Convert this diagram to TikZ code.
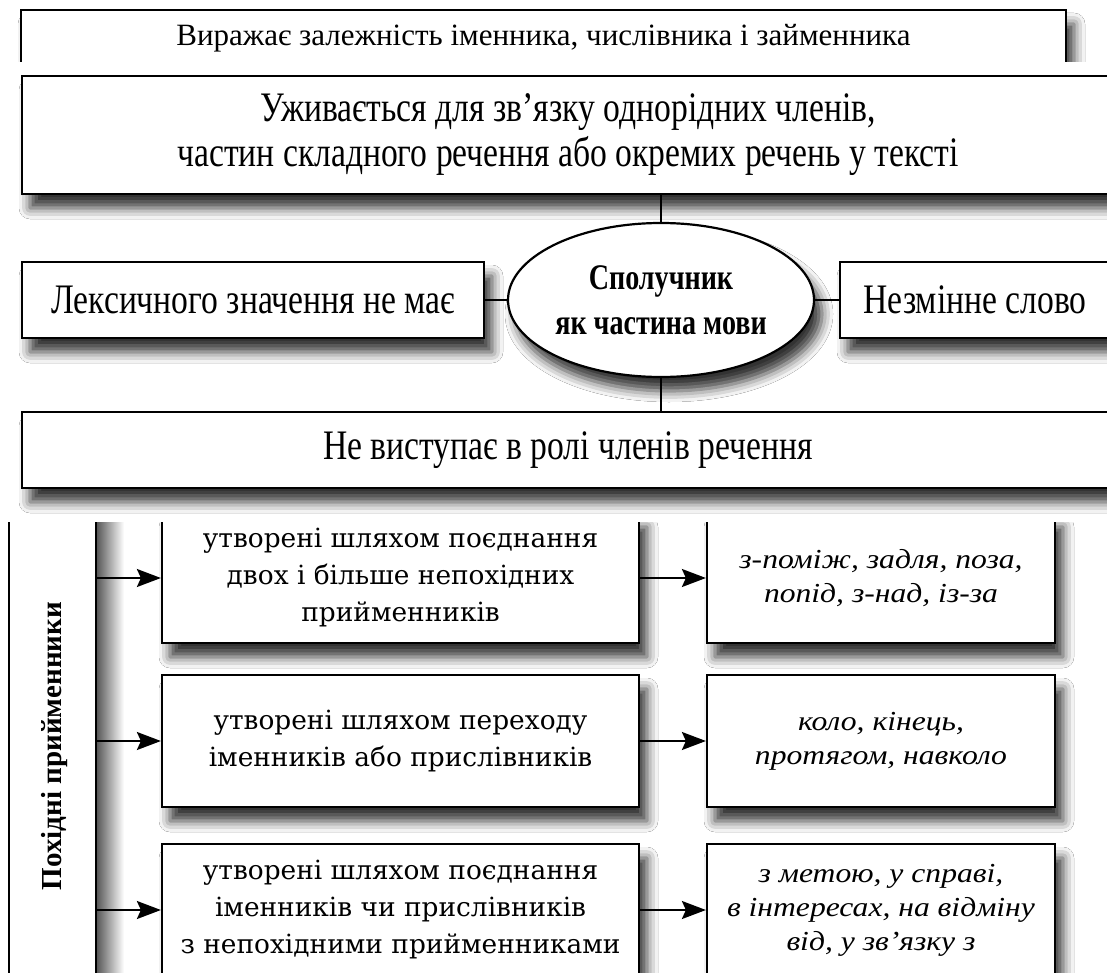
\documentclass[tikz,border=0pt]{standalone}
\usepackage{fontspec}
\setmainfont{Liberation Serif}
\newfontfamily\narrowfont[FakeStretch=0.8]{Liberation Serif}
\newfontfamily\tightfont[FakeStretch=0.78]{Liberation Serif}
\newfontfamily\widefont{DejaVu Serif}
\newfontfamily\exfont[FakeStretch=1.15]{Liberation Serif}
\usetikzlibrary{arrows.meta,shapes.geometric,shadows.blur}

\begin{document}
\begin{tikzpicture}[x=1pt,y=-1pt,
    box/.style={draw,line width=2.2pt,fill=white,align=center,inner sep=0pt,
      blur shadow={shadow xshift=8pt,shadow yshift=-14pt,shadow blur radius=11pt,shadow opacity=80}},
    link/.style={line width=1.8pt},
    arr/.style={line width=2pt,-{Stealth[length=24pt,width=18pt,inset=4pt]}},
    topfont/.style={font=\fontsize{31}{36}\selectfont},
    narrowtext/.style={font=\narrowfont\fontsize{42}{45}\selectfont},
    widetext/.style={font=\widefont\fontsize{26.4}{37}\selectfont},
    exampletext/.style={font=\exfont\itshape\fontsize{27.5}{34}\selectfont}]

  \useasboundingbox[fill=white] (0,0) rectangle (1107,973);%

  \begin{scope}
    \clip (0,0) rectangle (1107,62);%
    \node[box,topfont,minimum width=1045,minimum height=56] (verb) at (543.5,38)
      {Виражає залежність іменника, числівника і займенника};%
  \end{scope}

  \begin{scope}
    \clip (0,62) rectangle (1107,520);%
    \node[box,narrowtext,minimum width=1092,minimum height=118] (use) at (568,135)
      {Уживається для зв’язку однорідних членів,\\частин складного речення або окремих речень у тексті};%
    \node[box,ellipse,font=\tightfont\bfseries\fontsize{36}{45}\selectfont,
      minimum width=306,minimum height=154] (core) at (661,300)
      {Сполучник\\як частина мови};%
    \node[box,narrowtext,minimum width=462,minimum height=76] (lex) at (253,300)
      {Лексичного значення не має};%
    \node[box,narrowtext,minimum width=270,minimum height=76] (fixed) at (975,300)
      {Незмінне слово};%
    \node[box,narrowtext,minimum width=1092,minimum height=76] (role) at (568,450)
      {Не виступає в ролі членів речення};%

    \draw[link] (core.north |- use.south) -- (core.north);%
    \draw[link] (lex.east) -- (core.west);%
    \draw[link] (core.east) -- (fixed.west);%
    \draw[link] (core.south) -- (core.south |- role.north);%
  \end{scope}

  \begin{scope}
    \clip (0,522) rectangle (1107,973);%
    \shade[left color=black!65,right color=white] (97,500) rectangle (124,1000);%
    \node[draw,line width=2.2pt,minimum width=87,minimum height=500] (side) at (52.5,750) {};%
    \node[rotate=90,font=\bfseries\fontsize{29}{34}\selectfont] (sidetxt) at (55,746)
      {Похідні прийменники};%

    \node[box,widetext,minimum width=477,minimum height=130] (way1) at (400.5,578)
      {утворені шляхом поєднання\\двох і більше непохідних\\прийменників};%
    \node[box,widetext,minimum width=477,minimum height=132] (way2) at (400.5,741)
      {утворені шляхом переходу\\іменників або прислівників};%
    \node[box,widetext,minimum width=477,minimum height=132] (way3) at (400.5,910)
      {утворені шляхом поєднання\\іменників чи прислівників\\з непохідними прийменниками};%

    \node[box,exampletext,minimum width=348,minimum height=130] (ex1) at (881,578)
      {з-поміж, задля, поза,\\попід, з-над, із-за};%
    \node[box,exampletext,minimum width=348,minimum height=132] (ex2) at (881,741)
      {коло, кінець,\\протягом, навколо};%
    \node[box,exampletext,minimum width=348,minimum height=132] (ex3) at (881,910)
      {з метою, у справі,\\в інтересах, на відміну\\від, у зв’язку з};%

    \draw[arr] (side.east |- way1.west) -- (way1.west);%
    \draw[arr] (side.east |- way2.west) -- (way2.west);%
    \draw[arr] (side.east |- way3.west) -- (way3.west);%
    \draw[arr] (way1.east) -- (ex1.west);%
    \draw[arr] (way2.east) -- (ex2.west);%
    \draw[arr] (way3.east) -- (ex3.west);%
  \end{scope}
\end{tikzpicture}
\end{document}
